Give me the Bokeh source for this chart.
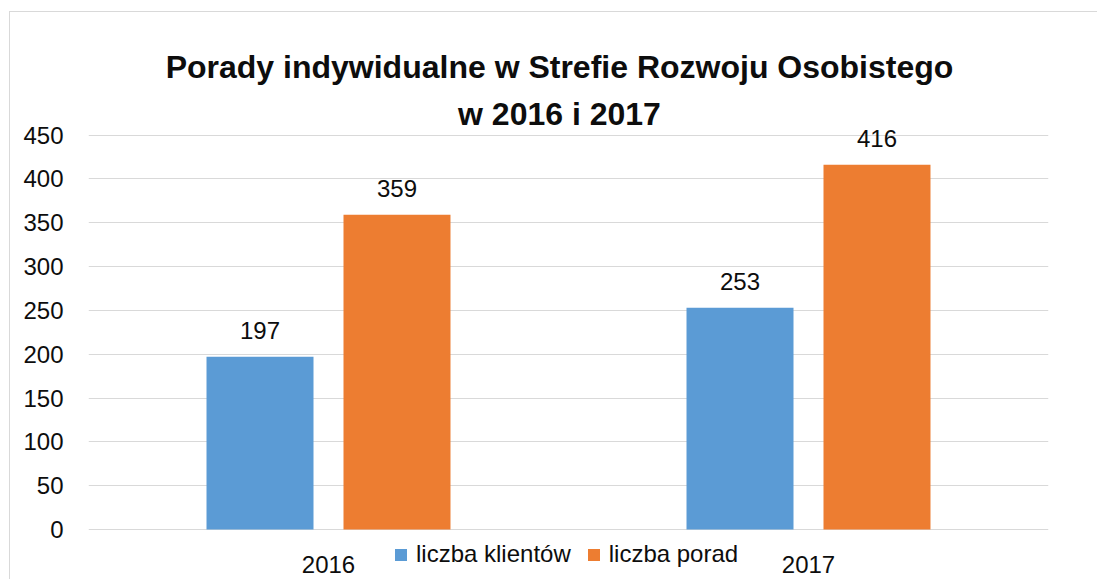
from bokeh.plotting import figure
from bokeh.models import (ColumnDataSource, FactorRange, Range1d, LabelSet, Legend, LegendItem,
                          Label, FixedTicker)
from bokeh.core.properties import value
from bokeh.transform import dodge
from bokeh.embed import file_html
from bokeh.resources import INLINE

years = ["2016", "2017"]
klienci = [197, 253]
porady = [359, 416]
series_names = ["liczba klientów", "liczba porad"]
title_lines = ["Porady indywidualne w Strefie Rozwoju Osobistego", "w 2016 i 2017"]
y_ticks = [0, 50, 100, 150, 200, 250, 300, 350, 400, 450]

FONT = "Liberation Sans"
TXT = "#0d0d0d"
BLUE = "#5B9BD5"
ORANGE = "#ED7D31"
GRID = "#d9d9d9"

# layout (pixels inside the canvas)
W, H = 1097, 579
FRAME_L, FRAME_R = 88, 1048
Y0_PX, Y450_PX = 529.0, 134.5       # canvas y of value 0 and of value 450
pxu = (Y0_PX - Y450_PX) / 450.0
y_start = -(H - Y0_PX) / pxu
y_end = 450 + Y450_PX / pxu

src = ColumnDataSource(data=dict(
    year=years, klienci=klienci, porady=porady,
    kl_txt=[str(v) for v in klienci], po_txt=[str(v) for v in porady]))

p = figure(width=W, height=H, x_range=FactorRange(factors=years),
           y_range=Range1d(y_start, y_end), output_backend="svg", toolbar_location=None,
           x_axis_location=None,
           min_border_left=FRAME_L, min_border_right=W - FRAME_R,
           min_border_bottom=0, min_border_top=0)
p.styles = {
    "background": ("linear-gradient(#d9d9d9,#d9d9d9) 9px 11px / 1px 100% no-repeat, "
                   "linear-gradient(#d9d9d9,#d9d9d9) 9px 11px / 100% 1px no-repeat, #ffffff"),
}
p.outline_line_color = None
p.background_fill_alpha = 0
p.border_fill_alpha = 0

off = 0.1427
bw = 0.2229
r1 = p.vbar(x=dodge("year", -off, range=p.x_range), top="klienci", width=bw, source=src,
            fill_color=BLUE, line_color=None)
r2 = p.vbar(x=dodge("year", off, range=p.x_range), top="porady", width=bw, source=src,
            fill_color=ORANGE, line_color=None)

for col, ycol, o in (("kl_txt", "klienci", -off), ("po_txt", "porady", off)):
    p.add_layout(LabelSet(x=dodge("year", o, range=p.x_range), y=ycol, text=col, source=src,
                          y_offset=18, text_align="center", text_baseline="alphabetic",
                          text_font=value(FONT), text_font_size="24px", text_color=TXT))

# category labels under the bars
p.add_layout(LabelSet(x="year", y=0, text="year", source=src, y_offset=-43,
                      text_align="center", text_baseline="alphabetic",
                      text_font=value(FONT), text_font_size="24px", text_color=TXT))

# y axis
p.yaxis.ticker = FixedTicker(ticks=y_ticks)
p.ygrid.ticker = FixedTicker(ticks=y_ticks)
p.yaxis.axis_line_color = None
p.yaxis.major_tick_line_color = None
p.yaxis.minor_tick_line_color = None
p.yaxis.major_tick_out = 0
p.yaxis.major_tick_in = 0
p.yaxis.major_label_standoff = 25
p.yaxis.major_label_text_font = FONT
p.yaxis.major_label_text_font_size = "24px"
p.yaxis.major_label_text_color = TXT

p.xgrid.grid_line_color = None
p.ygrid.grid_line_color = GRID
p.ygrid.grid_line_width = 1

# title, two centred lines
for txt, base in ((title_lines[0], 66.7), (title_lines[1], 113.3)):
    p.add_layout(Label(x=559, y=base, x_units="canvas", y_units="canvas", text=txt,
                       text_align="center", text_baseline="alphabetic",
                       text_font=FONT, text_font_size="32px", text_font_style="bold",
                       text_color=TXT))

legend = Legend(items=[LegendItem(label=series_names[0], renderers=[r1]),
                       LegendItem(label=series_names[1], renderers=[r2])],
                orientation="horizontal", location=(305, 11),
                glyph_width=15, glyph_height=15, label_standoff=8, spacing=15,
                padding=0, margin=0, border_line_color=None, background_fill_alpha=0,
                label_text_font=FONT, label_text_font_size="24px", label_text_color=TXT)
p.add_layout(legend, "center")

open("out.html", "w").write(file_html(p, INLINE))
